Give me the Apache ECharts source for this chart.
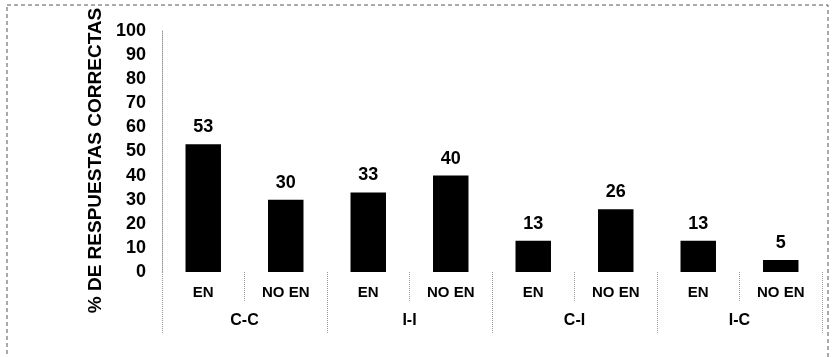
<!DOCTYPE html>
<html>
<head>
<meta charset="utf-8">
<script src="https://cdn.jsdelivr.net/npm/echarts@6/dist/echarts.min.js"></script>
<style>
  html, body { margin: 0; padding: 0; background: #fff; }
  #chart { width: 835px; height: 357px; }
</style>
</head>
<body>
<div id="chart"></div>
<script>
// condiciones y grupos
var categories = ['EN', 'NO EN', 'EN', 'NO EN', 'EN', 'NO EN', 'EN', 'NO EN'];
var groups = ['C-C', 'I-I', 'C-I', 'I-C'];
var values = [53, 30, 33, 40, 13, 26, 13, 5];
var yTicks = [0, 10, 20, 30, 40, 50, 60, 70, 80, 90, 100];

var font = '"Liberation Sans", Arial, sans-serif';
var chart = echarts.init(document.getElementById('chart'));

chart.setOption({
    animation: false,
    backgroundColor: '#fff',
    grid: { left: 162, right: 13, top: 31, bottom: 85, outerBoundsMode: 'none' },
    graphic: [{
        type: 'rect',
        shape: { x: 7, y: 5, width: 821, height: 400 },
        style: { fill: 'none', stroke: '#555', lineWidth: 1, lineDash: [4, 3] },
        silent: true
    }],
    xAxis: [{
        type: 'category',
        data: categories,
        axisLine: { show: false },
        axisTick: { show: true, length: 30, lineStyle: { color: '#999', type: 'dotted' } },
        axisLabel: { margin: 13, color: '#000', fontFamily: font, fontWeight: 'bold', fontSize: 15 }
    }, {
        type: 'category',
        data: groups,
        position: 'bottom',
        axisLine: { show: false },
        axisTick: { show: true, length: 62, lineStyle: { color: '#999', type: 'dotted' } },
        axisLabel: { margin: 41, color: '#000', fontFamily: font, fontWeight: 'bold', fontSize: 16 }
    }],
    yAxis: {
        type: 'value',
        min: yTicks[0],
        max: yTicks[yTicks.length - 1],
        interval: 10,
        name: '% DE RESPUESTAS CORRECTAS',
        nameLocation: 'middle',
        nameRotate: 90,
        nameGap: 52,
        nameTextStyle: { color: '#000', fontFamily: font, fontWeight: 'bold', fontSize: 19, padding: [0, 18, 0, 0] },
        axisLine: { show: true, lineStyle: { color: '#999', type: 'dotted' } },
        axisTick: { show: false },
        splitLine: { show: false },
        axisLabel: { margin: 16, color: '#000', fontFamily: font, fontWeight: 'bold', fontSize: 18 }
    },
    series: [{
        type: 'bar',
        data: values,
        xAxisIndex: 0,
        barWidth: '43%',
        itemStyle: { color: '#000' },
        label: {
            show: true,
            position: 'top',
            distance: 8,
            color: '#000',
            fontFamily: font,
            fontWeight: 'bold',
            fontSize: 18
        }
    }]
});
</script>
</body>
</html>
